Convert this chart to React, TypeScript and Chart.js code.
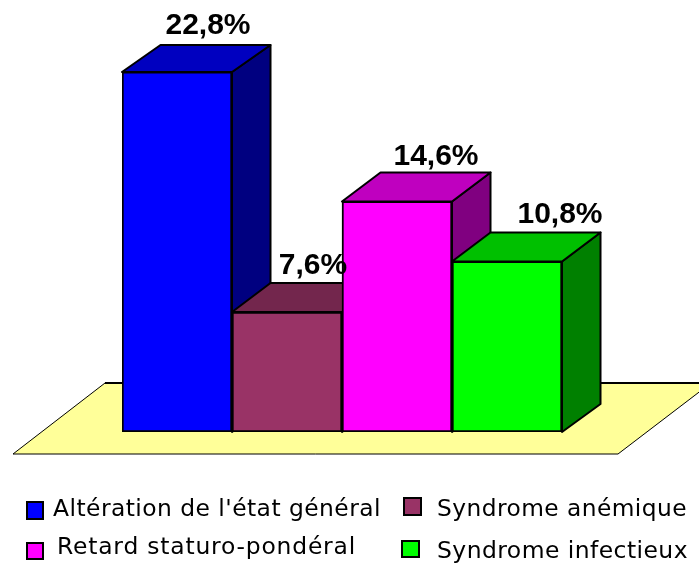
import { useEffect, useRef } from "react";
import { Chart, registerables } from "chart.js";

Chart.register(...registerables);

const categories = ["Altération de l'état général", "Syndrome anémique", "Retard staturo-pondéral", "Syndrome infectieux"];
const values = [22.8, 7.6, 14.6, 10.8];
const valueLabels = ["22,8%", "7,6%", "14,6%", "10,8%"];
const frontColors = ["#0000ff", "#993366", "#ff00ff", "#00ff00"];
const topColors = ["#0000c0", "#73264d", "#bf00bf", "#00c000"];
const sideColors = ["#000080", "#4d1a33", "#800080", "#008000"];

const labelOffsets = [[31, -38], [26, -38], [39, -36], [53, -38]];
const legendLayout = [
  { sx: 27, sy: 502, sw: 16, sh: 17, tx: 53, ty: 516, tw: 328, ls: 0.45 },
  { sx: 404, sy: 498, sw: 17, sh: 17, tx: 437, ty: 516, tw: 250, ls: 0.45 },
  { sx: 27, sy: 543, sw: 16, sh: 16, tx: 57, ty: 554, tw: 299, ls: 0.8 },
  { sx: 402, sy: 541, sw: 17, sh: 16, tx: 437, ty: 558, tw: 251, ls: 0.45 },
];
const DX = 38.5;
const TOP_DEPTHS = [-27, -29, -29, -29];
const BOTTOM_DEPTH = -28;

const poly = (ctx: CanvasRenderingContext2D, pts: number[][], fill: string, lw = 2) => {
  ctx.beginPath();
  pts.forEach((p, i) => (i ? ctx.lineTo(p[0], p[1]) : ctx.moveTo(p[0], p[1])));
  ctx.closePath();
  ctx.fillStyle = fill;
  ctx.fill();
  ctx.lineWidth = lw;
  ctx.lineJoin = "round";
  ctx.strokeStyle = "#000";
  ctx.stroke();
};

const box3d = {
  id: "box3d",
  beforeDatasetsDraw(chart: any) {
    const { ctx, chartArea: a } = chart;
    const bottom = a.bottom;
    ctx.save();
    // floor
    const x0 = a.left - 109, x1 = a.left - 17, x2 = a.right + 149, x3 = a.right + 56;
    const yB = bottom + 22, yT = bottom - 49;
    poly(ctx, [[x0, yB], [x1, yT], [x2, yT], [x3, yB]], "#ffff99", 1);
    ctx.strokeStyle = "#000";
    ctx.lineWidth = 2;
    ctx.beginPath();
    ctx.moveTo(x1, yT);
    ctx.lineTo(x2, yT);
    ctx.stroke();
    chart.getDatasetMeta(0).data.forEach((bar: any, i: number) => {
      const l = bar.x - bar.width / 2;
      const r = bar.x + bar.width / 2;
      const t = bar.y;
      const b = bar.base;
      const d = TOP_DEPTHS[i];
      poly(ctx, [[r, t], [r + DX, t + d], [r + DX, b + BOTTOM_DEPTH], [r, b]], sideColors[i]);
      poly(ctx, [[l, t], [l + DX, t + d], [r + DX, t + d], [r, t]], topColors[i]);
    });
    ctx.restore();
  },
  afterDatasetsDraw(chart: any) {
    const { ctx } = chart;
    ctx.save();
    ctx.fillStyle = "#000";
    ctx.textAlign = "center";
    ctx.textBaseline = "alphabetic";
    ctx.font = "bold 30px 'Liberation Sans'";
    chart.getDatasetMeta(0).data.forEach((bar: any, i: number) => {
      ctx.fillText(valueLabels[i], bar.x + labelOffsets[i][0], bar.y + labelOffsets[i][1]);
    });
    // legend
    ctx.textAlign = "left";
    ctx.font = "23.5px 'DejaVu Sans'";
    categories.forEach((name, i) => {
      const g = legendLayout[i];
      ctx.fillStyle = frontColors[i];
      ctx.strokeStyle = "#000";
      ctx.lineWidth = 2;
      ctx.fillRect(g.sx, g.sy, g.sw, g.sh);
      ctx.strokeRect(g.sx, g.sy, g.sw, g.sh);
      ctx.fillStyle = "#000";
      (ctx as any).letterSpacing = g.ls + "px";
      ctx.fillText(name, g.tx, g.ty, g.tw);
    });
    ctx.restore();
  },
};

export default function App() {
  const ref = useRef<HTMLCanvasElement>(null);
  useEffect(() => {
    document.body.style.margin = "0";
    const chart = new Chart(ref.current!, {
      type: "bar",
      data: {
        labels: categories,
        datasets: [
          {
            data: values,
            backgroundColor: frontColors,
            borderColor: "#000",
            borderWidth: 2,
            borderSkipped: false,
            categoryPercentage: 1,
            barPercentage: 1,
          },
        ],
      },
      options: {
        responsive: false,
        animation: false,
        layout: { padding: { left: 122, right: 137, top: 53, bottom: 133 } },
        scales: {
          x: { display: false },
          y: { display: false, min: 0, max: 24 },
        },
        plugins: { legend: { display: false }, tooltip: { enabled: false } },
      },
      plugins: [box3d],
    });
    return () => chart.destroy();
  }, []);
  return <canvas ref={ref} width={699} height={565} style={{ display: "block" }} />;
}
